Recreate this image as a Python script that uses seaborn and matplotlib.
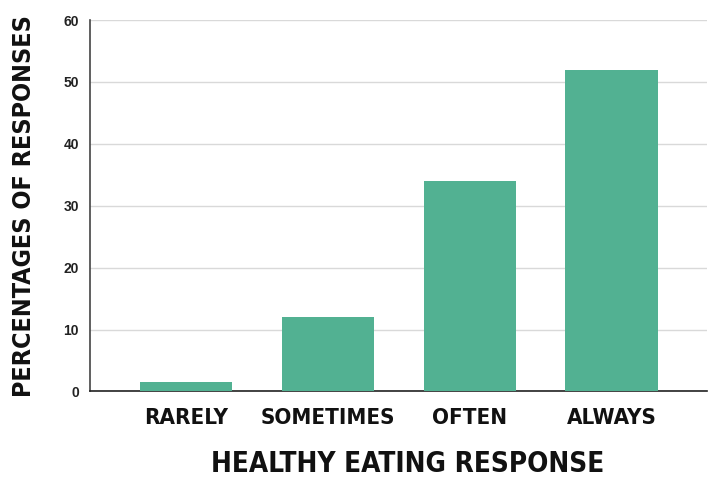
import matplotlib
matplotlib.use("Agg")
import matplotlib.pyplot as plt
import seaborn as sns
import pandas as pd

categories = ["RARELY", "SOMETIMES", "OFTEN", "ALWAYS"]
percentages = [1.5, 12, 34, 52]
y_ticks = [0, 10, 20, 30, 40, 50, 60]

bar_color = "#52b192"

sns.set_theme(style="whitegrid")
plt.rcParams["font.family"] = ["DejaVu Sans"]

df = pd.DataFrame({"response": categories, "pct": percentages})

fig = plt.figure(figsize=(7.12, 4.79), dpi=100)
ax = fig.add_axes([0.1264, 0.1827, 0.8666, 0.7755])

sns.barplot(data=df, x="response", y="pct", color=bar_color, width=0.65,
            saturation=1, ax=ax, zorder=3)
for p in ax.patches:
    p.set_edgecolor("none")

ax.set_xlim(-0.677, 3.674)
ax.set_ylim(0, 60)
ax.set_yticks(y_ticks)
ax.set_yticklabels([str(t) for t in y_ticks], fontfamily="Liberation Sans",
                   fontweight="bold", fontsize=10, color="#222222")
ax.tick_params(axis="y", length=0, pad=8)
ax.tick_params(axis="x", length=0, pad=12)
for lbl in ax.get_xticklabels():
    lbl.set_fontfamily("DejaVu Sans")
    lbl.set_fontstretch("condensed")
    lbl.set_fontweight("bold")
    lbl.set_fontsize(16)
    lbl.set_color("#111111")

ax.grid(axis="y", color="#d9d9d9", linewidth=1, zorder=0)
ax.grid(axis="x", visible=False)
for side in ["top", "right"]:
    ax.spines[side].set_visible(False)
ax.spines["left"].set_color("#444444")
ax.spines["left"].set_linewidth(1.2)
ax.spines["bottom"].set_color("#222222")
ax.spines["bottom"].set_linewidth(1.2)

ax.set_xlabel("HEALTHY EATING RESPONSE", fontfamily="DejaVu Sans",
              fontstretch="condensed", fontweight="bold", fontsize=20,
              color="#111111")
ax.xaxis.label.set_va("center")
ax.xaxis.set_label_coords(0.515, -0.195)

ax.set_ylabel("PERCENTAGES OF RESPONSES", fontfamily="DejaVu Sans",
              fontstretch="condensed", fontweight="bold", fontsize=18,
              color="#111111")
ax.yaxis.label.set_va("center")
ax.yaxis.set_label_coords(-0.107, 0.5)

fig.savefig("out.png", dpi=100)
